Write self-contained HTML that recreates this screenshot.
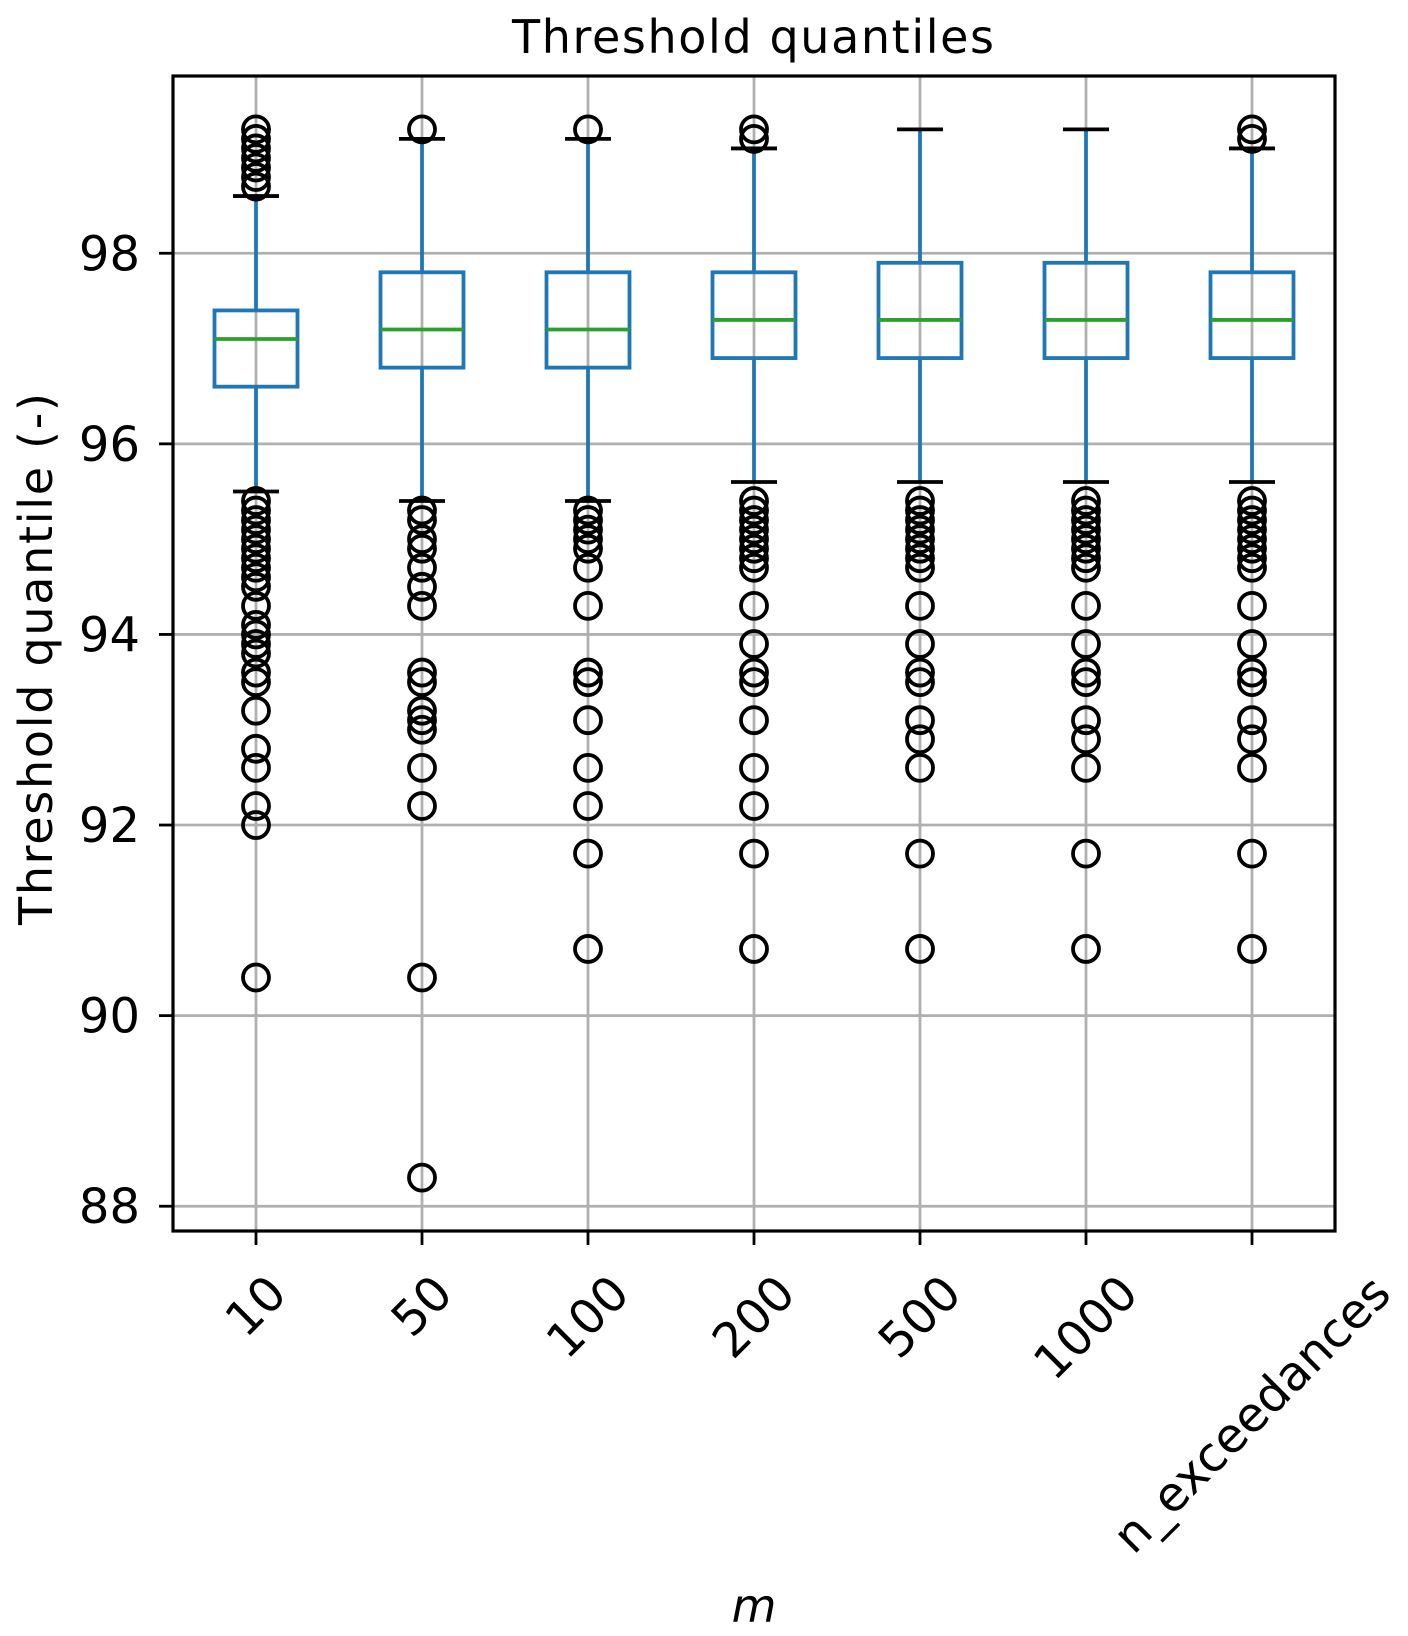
<!DOCTYPE html>
<html><head><meta charset="utf-8"><style>
html,body{margin:0;padding:0;background:#fff}
svg{display:block}
text{font-family:"DejaVu Sans","Liberation Sans",sans-serif;fill:#000}
</style></head><body>
<svg id="chart" width="1408" height="1636" viewBox="0 0 1408 1636" xmlns="http://www.w3.org/2000/svg">
<g id="grid"></g>
<g id="boxes"></g>
<g id="axes"></g>
<text x="753" y="53" font-size="46" text-anchor="middle" textLength="482">Threshold quantiles</text>
<text transform="translate(52,659) rotate(-90)" font-size="46" text-anchor="middle" textLength="532">Threshold quantile (-)</text>
<text x="754" y="1622" font-size="46" font-style="italic" text-anchor="middle">m</text>
</svg>
<script>
const categories = ["10","50","100","200","500","1000","n_exceedances"];
const q1 = [96.6,96.8,96.8,96.9,96.9,96.9,96.9];
const medians = [97.1,97.2,97.2,97.3,97.3,97.3,97.3];
const q3 = [97.4,97.8,97.8,97.8,97.9,97.9,97.8];
const whiskerLow = [95.5,95.4,95.4,95.6,95.6,95.6,95.6];
const whiskerHigh = [98.6,99.2,99.2,99.1,99.3,99.3,99.1];
const outliersHigh = [
 [98.7,98.8,98.9,99.0,99.1,99.2,99.3],
 [99.3],[99.3],[99.2,99.3],[],[],[99.2,99.3]];
const outliersLow = [
 [95.4,95.3,95.2,95.1,95.0,94.9,94.8,94.7,94.6,94.5,94.3,94.1,94.0,93.9,93.8,93.6,93.5,93.2,92.8,92.6,92.2,92.0,90.4],
 [95.3,95.2,95.0,94.9,94.7,94.5,94.3,93.6,93.5,93.2,93.1,93.0,92.6,92.2,90.4,88.3],
 [95.3,95.2,95.1,95.0,94.9,94.7,94.3,93.6,93.5,93.1,92.6,92.2,91.7,90.7],
 [95.4,95.3,95.2,95.1,95.0,94.9,94.8,94.7,94.3,93.9,93.6,93.5,93.1,92.6,92.2,91.7,90.7],
 [95.4,95.3,95.2,95.1,95.0,94.9,94.8,94.7,94.3,93.9,93.6,93.5,93.1,92.9,92.6,91.7,90.7],
 [95.4,95.3,95.2,95.1,95.0,94.9,94.8,94.7,94.3,93.9,93.6,93.5,93.1,92.9,92.6,91.7,90.7],
 [95.4,95.3,95.2,95.1,95.0,94.9,94.8,94.7,94.3,93.9,93.6,93.5,93.1,92.9,92.6,91.7,90.7]];
const yTicks = [88,90,92,94,96,98];

const NS="http://www.w3.org/2000/svg";
const L=173,R=1335,T=76,B=1231;
const yMin=87.74,yMax=99.86;
function x(i){return L+(i+0.5)*(R-L)/categories.length;}
function y(v){return B-(v-yMin)/(yMax-yMin)*(B-T);}
const bw=0.5*(R-L)/categories.length, cw=46, sw=3.8;
function mk(tag,attrs,parent){const e=document.createElementNS(NS,tag);for(const k in attrs)e.setAttribute(k,attrs[k]);parent.appendChild(e);return e;}
const grid=document.getElementById('grid'),boxes=document.getElementById('boxes'),axes=document.getElementById('axes');
const gs={stroke:'#b0b0b0','stroke-width':2.8};
yTicks.forEach(t=>{
 const g=mk('line',Object.assign({x1:L,x2:R,y1:y(t),y2:y(t)},gs),grid);
 
 
 const tk=mk('line',{x1:L-14,x2:L,y1:y(t),y2:y(t),stroke:'#000','stroke-width':2.8},axes);
 
 
 const tx=mk('text',{x:140,y:y(t)+17,'font-size':48,'text-anchor':'end'},axes);
 tx.textContent=t;
 
 
});
categories.forEach((c,i)=>{
 const cx=x(i);
 const g=mk('line',Object.assign({x1:cx,x2:cx,y1:T,y2:B},gs),grid);
 
 
 const tk=mk('line',{x1:cx,x2:cx,y1:B,y2:B+14,stroke:'#000','stroke-width':2.8},axes);
 
 
 const grp=mk('g',{},boxes);
 
 
 const blue='#1f77b4';
 mk('line',{x1:cx,x2:cx,y1:y(q3[i]),y2:y(whiskerHigh[i]),stroke:blue,'stroke-width':sw},grp);
 mk('line',{x1:cx,x2:cx,y1:y(q1[i]),y2:y(whiskerLow[i]),stroke:blue,'stroke-width':sw},grp);
 mk('rect',{x:cx-bw/2,y:y(q3[i]),width:bw,height:y(q1[i])-y(q3[i]),fill:'none',stroke:blue,'stroke-width':sw},grp);
 mk('line',{x1:cx-bw/2,x2:cx+bw/2,y1:y(medians[i]),y2:y(medians[i]),stroke:'#2ca02c','stroke-width':sw},grp);
 mk('line',{x1:cx-cw/2,x2:cx+cw/2,y1:y(whiskerHigh[i]),y2:y(whiskerHigh[i]),stroke:'#000','stroke-width':sw},grp);
 mk('line',{x1:cx-cw/2,x2:cx+cw/2,y1:y(whiskerLow[i]),y2:y(whiskerLow[i]),stroke:'#000','stroke-width':sw},grp);
 outliersHigh[i].concat(outliersLow[i]).forEach(v=>{
  const o=mk('circle',{cx:cx,cy:y(v),r:13,fill:'none',stroke:'#000','stroke-width':sw},grp);
  
  
 });
 const lb=mk('text',{'font-size':48,'text-anchor':'middle','dominant-baseline':'central'},axes);
 lb.textContent=c;
 
 
 const w=lb.getComputedTextLength(), h=36;
 const half=(w+h)/(2*Math.SQRT2);
 lb.setAttribute('transform','translate('+cx+','+(1272+half)+') rotate(-45)');
});
mk('rect',{x:L,y:T,width:R-L,height:B-T,fill:'none',stroke:'#000','stroke-width':3.2},axes);
</script>
</body></html>
